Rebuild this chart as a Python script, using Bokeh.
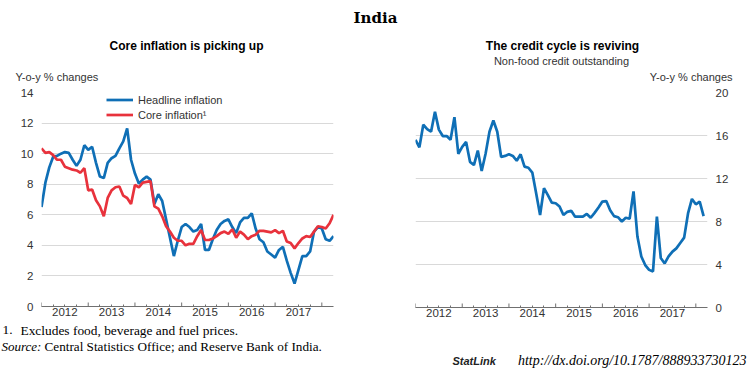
import math
from bokeh.plotting import figure
from bokeh.layouts import row, column
from bokeh.models import (FixedTicker, LinearAxis, Label, Legend, LegendItem,
                          Range1d, CustomJSTickFormatter)
from bokeh.embed import file_html
from bokeh.resources import INLINE

# ---------------- data ----------------
start_year = 2012            # first observation: January 2012, monthly data
years = [2012, 2013, 2014, 2015, 2016, 2017]

headline = [6.5, 8.1, 9.1, 9.8, 9.85, 10.0, 10.1, 10.05, 9.6, 9.2, 9.6, 10.55,
            10.25, 10.45, 9.4, 8.5, 8.4, 9.4, 9.7, 9.85, 10.35, 10.8, 11.65, 9.6,
            8.7, 8.05, 8.3, 8.5, 8.3, 6.7, 7.35, 6.9, 5.7, 4.5, 3.3, 4.3,
            5.2, 5.4, 5.2, 4.9, 5.0, 5.4, 3.7, 3.7, 4.4, 5.0, 5.4, 5.6,
            5.7, 5.2, 4.8, 5.5, 5.8, 5.8, 6.1, 5.1, 4.4, 4.2, 3.6, 3.4,
            3.2, 3.7, 3.9, 3.0, 2.2, 1.5, 2.4, 3.3, 3.3, 3.6, 4.9, 5.2,
            5.1, 4.4, 4.3, 4.6]

core = [10.35, 10.05, 10.1, 9.9, 9.6, 9.6, 9.15, 9.05, 8.95, 8.9, 8.75, 9.05,
        7.6, 7.65, 6.95, 6.55, 5.9, 7.1, 7.6, 7.8, 7.85, 7.25, 7.1, 6.7,
        7.95, 7.8, 8.1, 8.15, 8.2, 6.55, 6.4, 5.9, 5.25, 4.9, 4.5, 4.3,
        4.3, 4.0, 4.1, 4.1, 4.6, 5.0, 4.35, 4.35, 4.45, 4.6, 4.8, 4.9,
        4.75, 5.05, 4.5, 4.9, 4.7, 4.4, 4.6, 4.7, 4.95, 4.95, 4.9, 4.85,
        5.0, 4.8, 4.95, 4.25, 4.15, 3.8, 4.15, 4.45, 4.6, 4.55, 4.9, 5.25,
        5.2, 5.1, 5.45, 6.0]

credit = [15.6, 14.9, 17.0, 16.6, 16.35, 18.2, 16.55, 15.95, 15.95, 15.6, 17.7, 14.3,
          14.95, 15.4, 13.55, 13.25, 14.6, 12.7, 14.3, 16.35, 17.4, 16.35, 14.0, 14.1,
          14.25, 14.1, 13.65, 14.25, 13.1, 13.0, 12.55, 10.6, 8.6, 11.1, 10.45, 9.75,
          9.7, 9.4, 8.6, 8.9, 9.0, 8.45, 8.45, 8.45, 8.7, 8.35, 8.8, 9.3,
          9.85, 9.9, 9.05, 8.5, 8.4, 8.0, 8.35, 8.25, 10.8, 6.6, 4.75, 3.95,
          3.5, 3.35, 8.45, 4.6, 4.1, 4.75, 5.2, 5.5, 6.0, 6.5, 8.75, 10.1,
          9.6, 9.85, 8.5]

left_yticks = [0, 2, 4, 6, 8, 10, 12, 14]
right_yticks = [0, 4, 8, 12, 16, 20]

# ---------------- style ----------------
BLUE = "#0F6FB6"
RED = "#E8323C"
GRID = "#d9d9d9"
AXIS = "#707070"
TXT = "#333333"
SANS = "Liberation Sans"
SERIF = "Liberation Serif"
W, H = 750, 370


def month_x(n):
    return [start_year + i / 12 for i in range(n)]


def make_fig(bl, fw, br, bt, fh, bb, ymax, yticks, yloc, standoff):
    p = figure(frame_width=fw, frame_height=fh,
               min_border_left=bl, min_border_right=br,
               min_border_top=bt, min_border_bottom=bb,
               x_range=Range1d(start_year, years[-1] + 1.25),
               y_range=Range1d(0, ymax),
               x_axis_type=None, y_axis_location=yloc,
               toolbar_location=None, output_backend="svg")
    p.outline_line_color = None
    # y axis
    yax = p.yaxis[0]
    yax.ticker = FixedTicker(ticks=yticks, minor_ticks=[])
    yax.axis_line_color = None
    yax.major_tick_line_color = None
    yax.minor_tick_line_color = None
    yax.major_tick_in = 0
    yax.major_tick_out = 0
    yax.major_label_standoff = standoff
    yax.major_label_text_font = SANS
    yax.major_label_text_font_size = "11.5px"
    yax.major_label_text_color = TXT
    p.ygrid.ticker = FixedTicker(ticks=yticks[1:])
    p.ygrid.grid_line_color = GRID
    p.ygrid.grid_line_width = 1.2
    # x axis: year labels centred in each year, quarter ticks
    mids = [y + 0.5 for y in years]
    quarters = [y + q / 4 for y in years for q in (1, 3)]
    ax = LinearAxis(ticker=FixedTicker(ticks=mids, minor_ticks=quarters),
                    formatter=CustomJSTickFormatter(code="return Math.floor(tick).toFixed(0)"),
                    major_tick_in=2, major_tick_out=0,
                    minor_tick_in=2, minor_tick_out=0,
                    axis_line_color=AXIS, major_tick_line_color=AXIS,
                    minor_tick_line_color=AXIS, axis_line_width=1.2,
                    major_label_standoff=1,
                    major_label_text_font=SANS, major_label_text_font_size="11.5px",
                    major_label_text_color=TXT)
    p.add_layout(ax, "below")
    # longer ticks at the year boundaries (lower half clipped by the frame)
    bounds = years + [years[-1] + 1]
    p.scatter(bounds, [0] * len(bounds), marker="dash", angle=math.pi / 2,
              size=8, line_color=AXIS, line_width=1)
    return p


def text_fig(y0, y1):
    f = figure(width=W, height=y1 - y0, x_range=Range1d(0, W), y_range=Range1d(y1, y0),
               min_border=0, x_axis_type=None, y_axis_type=None,
               toolbar_location=None, output_backend="svg")
    f.outline_line_color = None
    return f


def label(f, x, y, text, size, font=SANS, style="normal", align="left", color="black"):
    f.add_layout(Label(x=x, y=y, text=text, text_font=font, text_font_size=size,
                       text_font_style=style, text_align=align, text_baseline="middle",
                       text_color=color))


# ---------------- header ----------------
head = text_fig(0, 84)
label(head, 375, 17, "India", "15px", font="DejaVu Serif", style="bold", align="center")
label(head, 186, 45, "Core inflation is picking up", "12px", style="bold", align="center")
label(head, 562, 45, "The credit cycle is reviving", "12px", style="bold", align="center")
label(head, 561, 60, "Non-food credit outstanding", "11px", align="center", color=TXT)
label(head, 15, 76.5, "Y-o-y % changes", "11px", color=TXT)
label(head, 732, 76.5, "Y-o-y % changes", "11px", align="right", color=TXT)

# ---------------- left panel ----------------
p1 = make_fig(41, 292, 42, 8, 214, 16, 14, left_yticks, "left", 8)
r1 = p1.line(month_x(len(headline)), headline, line_color=BLUE, line_width=2.7)
r2 = p1.line(month_x(len(core)), core, line_color=RED, line_width=2.7)
legend = Legend(items=[LegendItem(label="Headline inflation", renderers=[r1]),
                       LegendItem(label="Core inflation\u00b9", renderers=[r2])],
                location=(65, 184), glyph_width=27, glyph_height=15, label_height=15,
                label_standoff=5, spacing=0, padding=0, margin=0,
                border_line_alpha=0, background_fill_alpha=0,
                label_text_font=SANS, label_text_font_size="11px", label_text_color=TXT)
p1.add_layout(legend)

# ---------------- right panel ----------------
p2 = make_fig(40, 292, 43, 7, 215, 16, 20, right_yticks, "right", 8)
p2.line(month_x(len(credit)), credit, line_color=BLUE, line_width=2.7)

# ---------------- footer ----------------
foot = text_fig(322, 370)
label(foot, 2, 329.5, "1.", "13.4px", font=SERIF)
label(foot, 20, 329.5, "Excludes food, beverage and fuel prices.", "13.4px", font=SERIF)
label(foot, 1, 346, "Source:", "13px", font=SERIF, style="italic")
label(foot, 44, 346, "Central Statistics Office; and Reserve Bank of India.", "13.2px",
      font=SERIF)
label(foot, 452, 360, "StatLink", "11px", style="bold italic", color="#222222")
label(foot, 746, 360, "http://dx.doi.org/10.1787/888933730123", "14px", font=SERIF,
      style="italic", align="right")

layout = column(head, row(p1, p2, spacing=0), foot, spacing=0)
open("out.html", "w").write(file_html(layout, INLINE))
